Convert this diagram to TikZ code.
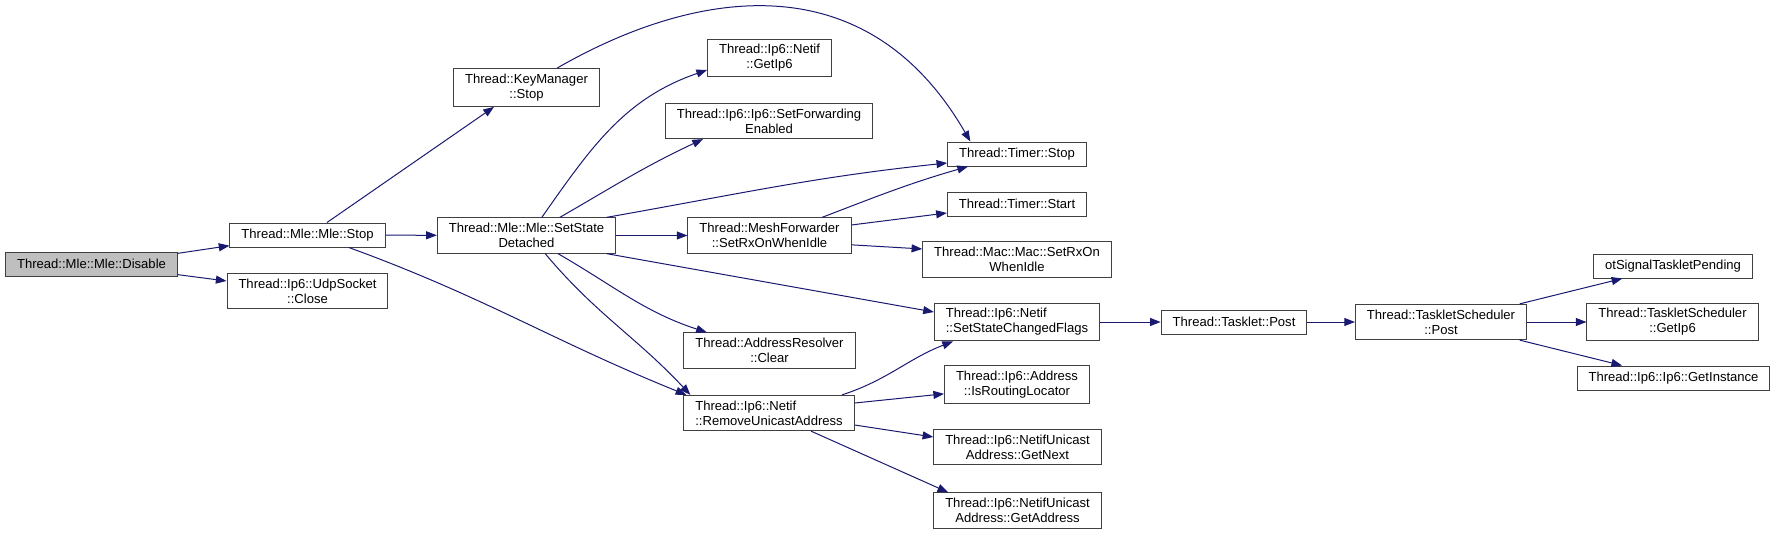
\documentclass[tikz,border=0pt]{standalone}
\usepackage{fontspec}
\setmainfont{Liberation Sans}
\usepackage{xcolor}
\usepackage{tikz}
\usetikzlibrary{arrows.meta}

\definecolor{edgeblue}{HTML}{191970}
\definecolor{boxline}{HTML}{404040}

\begin{document}
\begin{tikzpicture}[x=0.75pt, y=-0.75pt,
        fn/.style={draw=boxline, fill=white, rectangle, line width=0.75pt, minimum height=18pt, inner xsep=8.6pt, inner ysep=4pt, align=center, font=\fontsize{9.8}{11.25}\selectfont},
        fnleft/.style={fn, align=left},
        fnroot/.style={fn, fill=gray!50},
        arrow/.style={draw=edgeblue, line width=0.75pt, -{Triangle[length=8pt, width=6pt]}}
    ]
        \useasboundingbox (0,0) rectangle (1776,535);
        \node (disable) [fnroot] at (91.5,264) {Thread::Mle::Mle::Disable};
        \node (mlestop) [fn] at (307.5,235) {Thread::Mle::Mle::Stop};
        \node (udpclose) [fn] at (307.5,291) {Thread::Ip6::UdpSocket\\::Close};
        \node (keystop) [fn] at (526.5,87.5) {Thread::KeyManager\\::Stop};
        \node (detached) [fn] at (526.5,235.5) {Thread::Mle::Mle::SetState\\Detached};
        \node (getip6) [fn] at (769.5,58) {Thread::Ip6::Netif\\::GetIp6};
        \node (setfwd) [fn] at (769,121) {Thread::Ip6::Ip6::SetForwarding\\Enabled};
        \node (meshrx) [fn] at (769.5,235.5) {Thread::MeshForwarder\\::SetRxOnWhenIdle};
        \node (addrclear) [fn] at (769.5,350.5) {Thread::AddressResolver\\::Clear};
        \node (rmaddr) [fnleft] at (769,413) {Thread::Ip6::Netif\\::RemoveUnicastAddress};
        \node (timerstop) [fn] at (1017,154) {Thread::Timer::Stop};
        \node (timerstart) [fn] at (1017,204) {Thread::Timer::Start};
        \node (macrx) [fn] at (1017,259.5) {Thread::Mac::Mac::SetRxOn\\WhenIdle};
        \node (flags) [fnleft] at (1017,322) {Thread::Ip6::Netif\\::SetStateChangedFlags};
        \node (isrloc) [fn] at (1017,384.5) {Thread::Ip6::Address\\::IsRoutingLocator};
        \node (getnext) [fn] at (1017.5,447) {Thread::Ip6::NetifUnicast\\Address::GetNext};
        \node (getaddr) [fn] at (1017.5,510.5) {Thread::Ip6::NetifUnicast\\Address::GetAddress};
        \node (taskpost) [fn] at (1234,322) {Thread::Tasklet::Post};
        \node (schedpost) [fn] at (1441,322) {Thread::TaskletScheduler\\::Post};
        \node (otsignal) [fn] at (1673,266) {otSignalTaskletPending};
        \node (schedip6) [fn] at (1672.5,322) {Thread::TaskletScheduler\\::GetIp6};
        \node (getinst) [fn] at (1673.5,378) {Thread::Ip6::Ip6::GetInstance};
        \draw [arrow] ([yshift=8pt]disable.east) -- ([yshift=-8pt]mlestop.west);
        \draw [arrow] ([yshift=-8pt]disable.east) -- ([yshift=7.5pt]udpclose.west);
        \draw [arrow] ([xshift=14.6pt]mlestop.north) -- ([xshift=-24.4pt]keystop.south);
        \draw [arrow] (mlestop) -- (detached);
        \draw [arrow] ([xshift=31pt]mlestop.south) to[out=-20, in=158] ([xshift=-62pt]rmaddr.north);
        \draw [arrow] ([xshift=23pt]keystop.north) to[out=30, in=120, out distance=112pt, in distance=161pt] ([xshift=-35pt]timerstop.north);
        \draw [arrow] ([xshift=11.5pt]detached.north) to[out=55, in=199] ([yshift=-9pt]getip6.west);
        \draw [arrow] ([xshift=25pt]detached.north) to[out=30, in=205] ([xshift=-49.5pt]setfwd.south);
        \draw [arrow] ([xshift=60pt]detached.north) to[out=10, in=186] ([yshift=-6.75pt]timerstop.west);
        \draw [arrow] (detached) -- (meshrx);
        \draw [arrow] ([xshift=60pt]detached.south) -- ([yshift=7.5pt]flags.west);
        \draw [arrow] ([xshift=23.6pt]detached.south) to[out=-30, in=162] ([xshift=-47pt]addrclear.north);
        \draw [arrow] ([xshift=14pt]detached.south) to[out=-50, in=133] ([xshift=-59pt]rmaddr.north);
        \draw [arrow] ([xshift=39.4pt]meshrx.north) to[out=21, in=196] ([xshift=-36.75pt]timerstop.south);
        \draw [arrow] ([yshift=7.9pt]meshrx.east) -- ([yshift=-6.75pt]timerstart.west);
        \draw [arrow] ([yshift=-7pt]meshrx.east) -- ([yshift=7.9pt]macrx.west);
        \draw [arrow] ([xshift=54.75pt]rmaddr.north) to[out=18, in=201] ([xshift=-48pt]flags.south);
        \draw [arrow] ([yshift=7.5pt]rmaddr.east) -- ([yshift=-7pt]isrloc.west);
        \draw [arrow] ([yshift=-9pt]rmaddr.east) -- ([yshift=7.5pt]getnext.west);
        \draw [arrow] ([xshift=31.5pt]rmaddr.south) -- ([xshift=-52pt]getaddr.north);
        \draw [arrow] (flags) -- (taskpost);
        \draw [arrow] (taskpost) -- (schedpost);
        \draw [arrow] ([xshift=59pt]schedpost.north) -- ([xshift=-38pt]otsignal.south);
        \draw [arrow] (schedpost) -- (schedip6);
        \draw [arrow] ([xshift=59pt]schedpost.south) -- ([xshift=-38.6pt]getinst.north);
    \end{tikzpicture}
\end{document}
